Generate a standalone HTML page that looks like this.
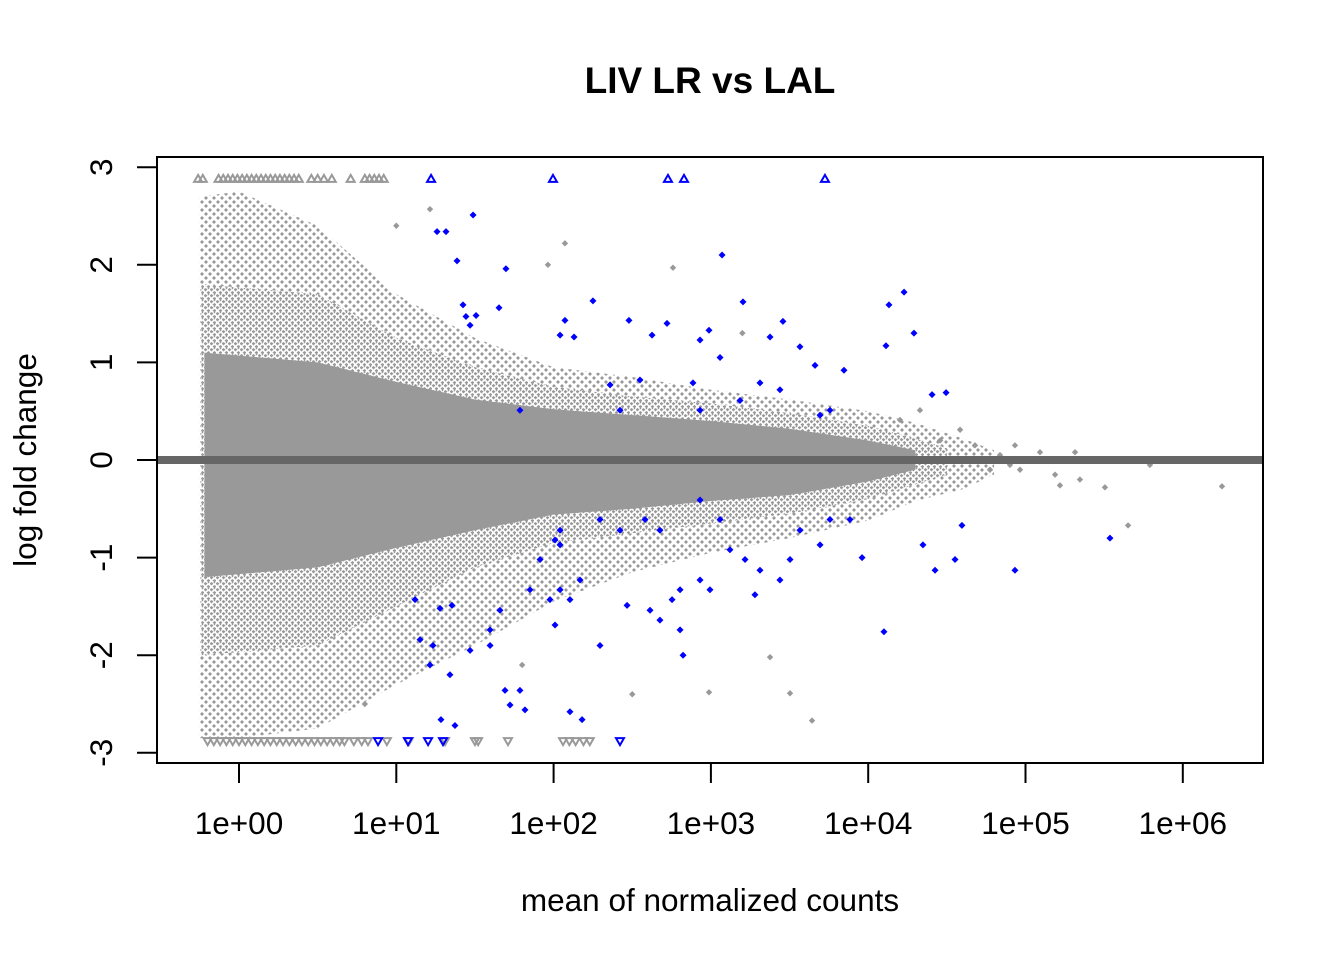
<!DOCTYPE html>
<html><head><meta charset="utf-8"><style>
body{margin:0;background:#fff;}
svg text{font-family:"Liberation Sans",Arial,sans-serif;fill:#000;}
</style></head><body>
<svg id="chart" width="1344" height="960" xmlns="http://www.w3.org/2000/svg">
<defs>
<pattern id="speck" width="8" height="8" patternUnits="userSpaceOnUse">
<path d="M2 0L4 2L2 4L0 2Z" fill="#999"/>
<path d="M6 4L8 6L6 8L4 6Z" fill="#999"/>
</pattern>
<pattern id="speck2" width="6" height="6" patternUnits="userSpaceOnUse">
<rect width="6" height="6" fill="#fff"/>
<path d="M1.5 0L3.5 1.5L1.5 3.5L-0.5 1.5Z" fill="#999"/>
<path d="M4.5 3L6.5 4.5L4.5 6.5L2.5 4.5Z" fill="#999"/>
<path d="M4.5 -0.5L5.5 0.5L4.5 1.5L3.5 0.5Z" fill="#999"/>
</pattern>
</defs>
<text x="710" y="93" font-size="37" font-weight="bold" text-anchor="middle">LIV LR vs LAL</text>
<text x="710" y="911" font-size="31.5" text-anchor="middle">mean of normalized counts</text>
<text transform="translate(36,460) rotate(-90)" font-size="31.5" text-anchor="middle">log fold change</text>
<g id="plot"></g>
<rect x="157" y="157" width="1106" height="606" fill="none" stroke="#000" stroke-width="2"/>
</svg>
<script>
const xTicks=[0,1,2,3,4,5,6];
const xTickLabels=["1e+00","1e+01","1e+02","1e+03","1e+04","1e+05","1e+06"];
const yTicks=[-3,-2,-1,0,1,2,3];
const outerEnv=[[-0.25,2.7,-2.85],[0,2.75,-2.85],[0.5,2.4,-2.75],[1.0,1.7,-2.3],[1.5,1.25,-1.9],[2.0,0.95,-1.45],[2.5,0.85,-1.15],[3.0,0.72,-0.95],[3.5,0.62,-0.8],[4.0,0.5,-0.62],[4.3,0.38,-0.42],[4.6,0.22,-0.3],[4.8,0.1,-0.15]];
const midEnv=[[-0.24,1.8,-2.0],[0.5,1.7,-1.9],[1.0,1.25,-1.5],[1.5,0.95,-1.1],[2.0,0.75,-0.85],[2.5,0.65,-0.75],[3.0,0.58,-0.65],[3.5,0.48,-0.55],[4.0,0.35,-0.4],[4.3,0.22,-0.25],[4.5,0.12,-0.15]];
const coreEnv=[[-0.22,1.1,-1.2],[0.5,1.0,-1.1],[1.0,0.8,-0.9],[1.5,0.62,-0.72],[2.0,0.52,-0.56],[2.5,0.46,-0.5],[3.0,0.4,-0.42],[3.5,0.32,-0.36],[4.0,0.2,-0.22],[4.3,0.1,-0.1]];
const grayX=[4.584,4.679,4.838,4.933,5.092,5.188,5.219,5.346,5.315,5.505,5.791,6.249,5.652,4.901,4.774,4.202,4.329,4.457,4.965,1.964,2.072,2.759,1.214,2.988,3.503,3.643,3.376,3.2,2.5,1.8,1.0,0.8];
const grayY=[0.31,0.15,0.05,0.15,0.08,-0.15,-0.26,-0.20,0.08,-0.28,-0.05,-0.27,-0.67,-0.05,-0.10,0.41,0.51,0.20,-0.10,2.00,2.22,1.97,2.57,-2.38,-2.39,-2.67,-2.02,1.3,-2.4,-2.1,2.4,-2.5];
const blueX=[1.316,1.259,1.386,1.488,1.424,1.443,1.507,1.697,1.653,1.469,2.250,2.072,2.130,2.041,2.479,2.626,2.721,3.071,2.988,2.931,3.204,2.886,3.058,3.458,3.376,3.566,3.662,3.846,4.132,4.228,4.113,4.291,4.406,4.495,3.694,3.757,3.312,3.439,2.931,3.185,2.549,2.359,2.422,1.786,1.119,1.151,1.233,1.278,1.354,1.341,1.284,1.373,1.214,1.469,1.596,1.691,1.723,1.786,1.818,1.596,1.659,1.850,1.914,1.977,2.009,2.041,2.104,2.168,2.009,2.041,2.104,2.181,2.295,2.467,2.676,2.804,2.823,2.804,2.931,2.994,3.121,3.217,3.280,3.312,3.439,3.503,3.566,3.694,3.757,3.884,3.961,4.100,4.348,4.425,4.552,4.596,4.933,5.537,2.581,2.676,2.931,3.058,2.295,2.422,2.041,2.613,2.753];
const blueY=[2.34,2.34,2.04,2.51,1.59,1.47,1.48,1.96,1.56,1.38,1.63,1.43,1.26,1.28,1.43,1.28,1.40,2.10,1.33,1.23,1.62,0.79,1.05,1.42,1.26,1.16,0.97,0.92,1.59,1.72,1.17,1.30,0.67,0.69,0.46,0.51,0.79,0.72,0.51,0.61,0.82,0.77,0.51,0.51,-1.43,-1.84,-1.90,-1.52,-1.49,-2.20,-2.66,-2.72,-2.10,-1.95,-1.90,-2.36,-2.51,-2.36,-2.56,-1.74,-1.54,-1.33,-1.02,-1.43,-1.69,-1.33,-1.43,-1.23,-0.82,-0.72,-2.58,-2.66,-1.90,-1.49,-1.64,-1.74,-2.00,-1.33,-1.23,-1.33,-0.92,-1.02,-1.38,-1.13,-1.23,-1.02,-0.72,-0.87,-0.61,-0.61,-1.00,-1.76,-0.87,-1.13,-1.02,-0.67,-1.13,-0.80,-0.61,-0.72,-0.41,-0.61,-0.61,-0.72,-0.87,-1.54,-1.43];
const grayUpX=[-0.26,-0.23,-0.13,-0.10,-0.07,-0.04,-0.01,0.02,0.05,0.08,0.11,0.14,0.17,0.20,0.23,0.26,0.29,0.32,0.35,0.38,0.46,0.50,0.54,0.59,0.71,0.80,0.83,0.86,0.89,0.92];
const blueUpX=[1.221,1.996,2.727,2.829,3.725];
const grayDownX=[-0.20,-0.16,-0.12,-0.08,-0.04,0,0.04,0.08,0.12,0.16,0.20,0.24,0.28,0.32,0.36,0.40,0.44,0.48,0.52,0.56,0.60,0.64,0.67,0.73,0.78,0.82,0.94,1.08,1.31,1.50,1.52,1.71,2.06,2.10,2.14,2.19,2.23];
const blueDownX=[0.884,1.074,1.202,1.297,2.422];
const capUp=2.88, capDown=-2.88;

const NS="http://www.w3.org/2000/svg";
const xs=v=>239+v*157.3;
const ys=v=>460-v*97.6;
const svg=document.getElementById('chart');
const plot=document.getElementById('plot');
function mk(tag,attrs,parent){const e=document.createElementNS(NS,tag);for(const k in attrs)e.setAttribute(k,attrs[k]);(parent||svg).appendChild(e);return e;}
xTicks.forEach((t,i)=>{
  const l=mk('line',{x1:xs(t),x2:xs(t),y1:763,y2:783,stroke:'#000','stroke-width':2});
  
  
  const tx=mk('text',{x:xs(t),y:834,'font-size':31.5,'text-anchor':'middle'});tx.textContent=xTickLabels[i];
  
  
});
yTicks.forEach(t=>{
  const l=mk('line',{x1:137,x2:157,y1:ys(t),y2:ys(t),stroke:'#000','stroke-width':2});
  
  
  const tx=mk('text',{transform:`translate(112,${ys(t)}) rotate(-90)`,'font-size':31.5,'text-anchor':'middle'});tx.textContent=String(t);
  
  
});
function env(arr,fill){
  const top=arr.map(a=>xs(a[0])+','+ys(a[1]));
  const bot=arr.slice().reverse().map(a=>xs(a[0])+','+ys(a[2]));
  return mk('polygon',{points:top.concat(bot).join(' '),fill:fill},plot);
}
const o=env(outerEnv,'url(#speck)');


const m=env(midEnv,'url(#speck2)');


const c=env(coreEnv,'#999');


function diamond(x,y,col,r){return mk('path',{d:`M${x} ${y-r}L${x+r} ${y}L${x} ${y+r}L${x-r} ${y}Z`,fill:col},plot);}
grayX.forEach((v,i)=>{const d=diamond(xs(v),ys(grayY[i]),'#999',3.2);
  
  });
const zl=mk('line',{x1:158,x2:1262,y1:ys(0),y2:ys(0),stroke:'#666','stroke-width':8},plot);


blueX.forEach((v,i)=>{const d=diamond(xs(v),ys(blueY[i]),'#0000ff',3.5);
  
  });
function tri(x,up,col){const y=ys(up?capUp:capDown);const d=up?`M${x} ${y-4}L${x+4} ${y+3}L${x-4} ${y+3}Z`:`M${x} ${y+4}L${x+4} ${y-3}L${x-4} ${y-3}Z`;
  return mk('path',{d:d,fill:'none',stroke:col,'stroke-width':2},plot);}
grayUpX.forEach(v=>{const t=tri(xs(v),true,'#999');
  
  });
grayDownX.forEach(v=>{const t=tri(xs(v),false,'#999');
  
  });
blueUpX.forEach(v=>{const t=tri(xs(v),true,'#0000ff');
  
  });
blueDownX.forEach(v=>{const t=tri(xs(v),false,'#0000ff');
  
  });
</script>
</body></html>
